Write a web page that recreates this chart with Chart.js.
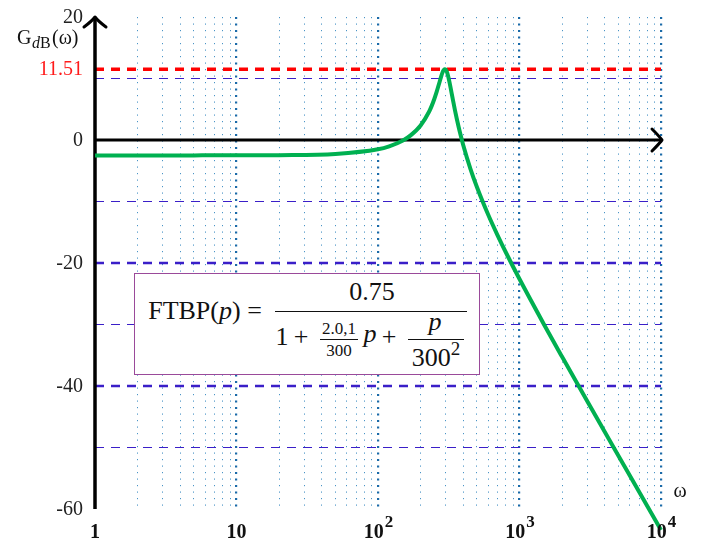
<!DOCTYPE html>
<html><head><meta charset="utf-8">
<script src="https://cdn.jsdelivr.net/npm/chart.js@4.4.1/dist/chart.umd.min.js"></script>
<style>
html,body{margin:0;padding:0;background:#fff;}
#wrap{position:relative;width:701px;height:540px;overflow:hidden;}
#c{position:absolute;left:0;top:0;}
#box{position:absolute;left:134px;top:273px;width:346px;height:102px;box-sizing:border-box;border:1.5px solid #9a4a9a;background:#fff;font-family:'Liberation Serif',serif;color:#111;}
.t{position:absolute;transform:translate(-50%,-50%);white-space:nowrap;line-height:1;font-size:26px;}
.s{font-size:17px;}
.bar{position:absolute;height:1.3px;background:#111;}
sup{font-size:19px;vertical-align:11px;line-height:0;}
</style></head><body>
<div id="wrap"><canvas id="c" width="701" height="540"></canvas>
<div id="box">
  <span class="t" style="left:70px;top:37px;">FTBP(<i>p</i>) =</span>
  <span class="t" style="left:237px;top:18px;">0.75</span>
  <div class="bar" style="left:140px;top:37px;width:192px;"></div>
  <span class="t" style="left:147px;top:63px;">1</span>
  <span class="t" style="left:166px;top:63px;">+</span>
  <span class="t s" style="left:204px;top:54px;">2.0,1</span>
  <div class="bar" style="left:185px;top:65px;width:38px;height:1px;"></div>
  <span class="t s" style="left:204px;top:76px;">300</span>
  <span class="t" style="left:235px;top:60px;"><i>p</i></span>
  <span class="t" style="left:254px;top:63px;">+</span>
  <span class="t" style="left:300px;top:48px;"><i>p</i></span>
  <div class="bar" style="left:273px;top:65px;width:56px;"></div>
  <span class="t" style="left:301px;top:84px;">300<sup>2</sup></span>
</div>
</div>
<script>
// ---- data ----
const omega  = [1,2,5,10,20,50,100,120,150,170,200,230,240,250,260,270,280,285,290,295,297,300,305,310,315,320,330,340,350,360,380,400,450,500,600,700,800,1000,1500,2000,3000,5000,7000,10000];
const gainDb = [-2.50,-2.50,-2.50,-2.49,-2.46,-2.26,-1.50,-1.02,-0.08,0.75,2.36,4.64,5.59,6.67,7.86,9.14,10.39,10.91,11.30,11.51,11.52,11.48,11.22,10.75,10.13,9.41,7.84,6.29,4.83,3.50,1.17,-0.80,-4.68,-7.65,-12.12,-15.50,-18.25,-22.61,-30.11,-35.26,-42.41,-51.34,-57.20,-63.41];
const peakLevel = [11.51];
const thinLevels = [10, -10, -30, -50];
const thickLevels = [-20, -40];
const yTickValues = [20, 0, -20, -40, -60];
const xTickValues = [1, 10, 100, 1000, 10000];
const xTickLabels = ['1', '10', '10^2', '10^3', '10^4'];
const xRange = [1, 10000];
const yRange = [-60, 20];

// ---- build datasets ----
const curve = omega.map((w, i) => ({x: w, y: gainDb[i]}));
const hLine = v => [{x: xRange[0], y: v}, {x: xRange[1], y: v}];
const BLUE = '#3a1fc8';
const datasets = [
  {data: curve, borderColor: '#00b050', borderWidth: 4, cubicInterpolationMode: 'monotone', clip: false},
  {data: hLine(0), borderColor: '#000', borderWidth: 3},
  {data: [{x: xRange[0], y: yRange[0]}, {x: xRange[0], y: yRange[1]}], borderColor: '#000', borderWidth: 3.5, clip: false},
  ...peakLevel.map(v => ({data: hLine(v), borderColor: '#ff0000', borderWidth: 3.5, borderDash: [9, 7]})),
  ...thickLevels.map(v => ({data: hLine(v), borderColor: BLUE, borderWidth: 2.5, borderDash: [9, 7]})),
  ...thinLevels.map(v => ({data: hLine(v), borderColor: BLUE, borderWidth: 1.2, borderDash: [9, 7]}))
];
datasets.forEach(d => { d.pointRadius = 0; d.fill = false; d.showLine = true; });

const gridValues = [];
for (let k = 0; k < 4; k++) for (let m = 1; m <= 9; m++) gridValues.push(m * Math.pow(10, k));
gridValues.push(10000);
const isDecade = v => Math.abs(Math.log10(v) - Math.round(Math.log10(v))) < 1e-9;

const decor = {
  id: 'decor',
  afterDatasetsDraw(chart) {
    const c = chart.ctx, xs = chart.scales.x, ys = chart.scales.y;
    c.save();
    c.strokeStyle = '#000'; c.lineWidth = 3; c.lineCap = 'round'; c.lineJoin = 'round';
    // top arrow of y axis
    let tx = xs.getPixelForValue(xRange[0]), ty = ys.getPixelForValue(yRange[1]);
    c.beginPath();
    c.moveTo(tx - 11, ty + 10); c.quadraticCurveTo(tx - 3, ty + 4, tx, ty);
    c.quadraticCurveTo(tx + 3, ty + 4, tx + 11, ty + 10); c.stroke();
    // right arrow of zero line
    tx = xs.getPixelForValue(xRange[1]) + 1; ty = ys.getPixelForValue(0);
    c.beginPath();
    c.moveTo(tx - 10, ty - 11); c.quadraticCurveTo(tx - 3, ty - 4, tx, ty);
    c.quadraticCurveTo(tx - 3, ty + 4, tx - 10, ty + 11); c.stroke();

    // y tick labels
    c.font = '20px "Liberation Serif"'; c.textAlign = 'right'; c.textBaseline = 'middle';
    c.fillStyle = '#222';
    yTickValues.forEach(v => c.fillText(String(v), 83, ys.getPixelForValue(v) + 1));
    c.fillStyle = '#ff1a1a';
    peakLevel.forEach(v => c.fillText(v.toFixed(2), 83, ys.getPixelForValue(v) + 1));

    // x tick labels (bold, with exponents)
    c.fillStyle = '#111'; c.textBaseline = 'alphabetic'; c.textAlign = 'left';
    xTickValues.forEach((v, i) => {
      const parts = xTickLabels[i].split('^');
      c.font = 'bold 20px "Liberation Serif"';
      const wb = c.measureText(parts[0]).width;
      let we = 0;
      if (parts[1]) { c.font = 'bold 17px "Liberation Serif"'; we = c.measureText(parts[1]).width; }
      const x0 = xs.getPixelForValue(v) - (wb + we) / 2;
      c.font = 'bold 20px "Liberation Serif"';
      c.fillText(parts[0], x0, 538);
      if (parts[1]) { c.font = 'bold 17px "Liberation Serif"'; c.fillText(parts[1], x0 + wb + 1, 527); }
    });

    // axis titles
    c.fillStyle = '#111';
    c.font = '20px "Liberation Serif"'; c.fillText('G', 17, 44);
    c.font = 'italic 16px "Liberation Serif"'; c.fillText('d', 32, 48);
    c.font = '16px "Liberation Serif"'; c.fillText('B', 40, 48);
    c.font = '20px "Liberation Serif"'; c.fillText('(ω)', 52, 44);
    c.textAlign = 'center'; c.textBaseline = 'middle';
    c.fillText('ω', 680, 492);
    c.restore();
  }
};

new Chart(document.getElementById('c'), {
  type: 'scatter',
  data: {datasets},
  options: {
    responsive: false, animation: false, devicePixelRatio: 1,
    layout: {padding: {left: 95, right: 40, top: 17, bottom: 31}},
    plugins: {legend: {display: false}, tooltip: {enabled: false}},
    scales: {
      x: {
        type: 'logarithmic', min: xRange[0], max: xRange[1],
        afterBuildTicks: s => { s.ticks = gridValues.map(v => ({value: v})); },
        afterFit: s => { s.height = 0; },
        ticks: {display: false},
        border: {display: false,
          dash: ctx => (ctx.tick && isDecade(ctx.tick.value)) ? [2, 4.5] : [1.2, 5.3]},
        grid: {
          drawTicks: false,
          color: ctx => {
            const v = ctx.tick ? ctx.tick.value : 0;
            if (v === 1) return 'rgba(0,0,0,0)';
            return isDecade(v) ? '#1a6aa8' : '#4a94c6';
          },
          lineWidth: ctx => (ctx.tick && isDecade(ctx.tick.value)) ? 2.2 : 1
        }
      },
      y: {type: 'linear', min: yRange[0], max: yRange[1], display: false}
    }
  },
  plugins: [decor]
});
</script>
</body></html>
